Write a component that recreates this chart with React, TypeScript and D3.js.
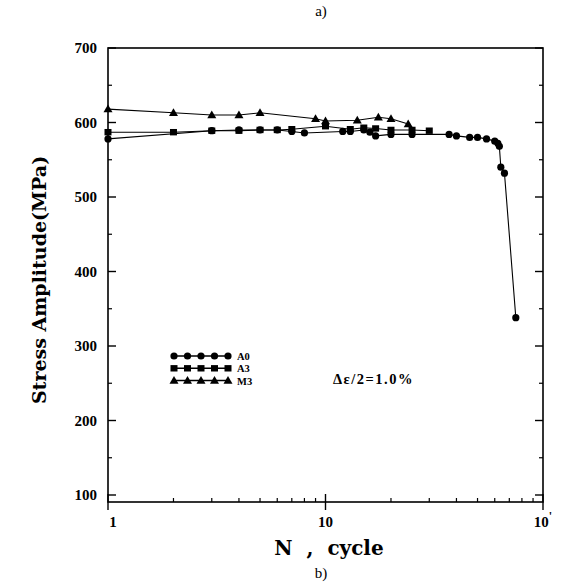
import React from "react";
import * as d3 from "d3";

const yTicks = [100, 200, 300, 400, 500, 600, 700];
const xTickLabels = ["1", "10", "10"];
const xTickValues = [1, 10, 100];

const a0N = [1, 3, 4, 5, 6, 7, 8, 12, 13, 15, 16, 17, 20, 25, 37, 40, 46, 50, 55, 60, 62, 63, 64, 66.5, 75];
const a0S = [578, 589, 590, 590, 590, 588, 586, 588, 588, 590, 587, 582, 584, 584, 584, 582, 580, 580, 578, 575, 572, 568, 540, 532, 338];

const a3N = [1, 2, 3, 4, 5, 6, 7, 10, 13, 15, 17, 20, 25, 30];
const a3S = [587, 587, 589, 589, 590, 590, 591, 595, 591, 593, 592, 590, 590, 589];

const m3N = [1, 2, 3, 4, 5, 9, 10, 14, 17.5, 20, 24];
const m3S = [618, 613, 610, 610, 613, 605, 602, 603, 607, 605, 598];

const legendNames = ["A0", "A3", "M3"];

const W = 570, H = 582;
const x = d3.scaleLog().domain([1, 100]).range([108, 543]);
const y = d3.scaleLinear().domain([100, 700]).range([495, 48]);
const plotBottom = 502;

function Marker({ kind, cx, cy }: { kind: string; cx: number; cy: number }) {
  if (kind === "circle") return <circle cx={cx} cy={cy} r={3.6} fill="#000" />;
  if (kind === "square") return <rect x={cx - 3.5} y={cy - 3.2} width={7} height={6.4} fill="#000" />;
  return <path d={`M${cx},${cy - 4.5} L${cx + 4.5},${cy + 3.2} L${cx - 4.5},${cy + 3.2} Z`} fill="#000" />;
}

function Series({ ns, ss, kind }: { ns: number[]; ss: number[]; kind: string }) {
  const pts: [number, number][] = ns.map((n, i) => [x(n), y(ss[i])]);
  const line = d3.line()(pts) || "";
  return (
    <g>
      <path d={line} fill="none" stroke="#000" strokeWidth={1.1} />
      {pts.map((p, i) => <Marker key={i} kind={kind} cx={p[0]} cy={p[1]} />)}
    </g>
  );
}

export default function App() {
  const minor: number[] = [];
  [1, 10].forEach((d) => { for (let k = 2; k <= 9; k++) minor.push(d * k); });
  const yMinor = d3.range(150, 700, 100);
  const kinds = ["circle", "square", "triangle"];
  const font = "'Liberation Serif', 'DejaVu Serif', serif";
  const font2 = "'DejaVu Serif', 'Liberation Serif', serif";
  return (
    <svg width={W} height={H} style={{ position: "absolute", left: 0, top: 0, background: "#fff" }}>
      <rect width={W} height={H} fill="#fff" />
      <text x={321} y={16} textAnchor="middle" fontFamily={font} fontSize={15}>a)</text>
      <text x={321} y={578} textAnchor="middle" fontFamily={font} fontSize={15}>b)</text>
      {/* frame */}
      <rect x={x(1)} y={48} width={x(100) - x(1)} height={plotBottom - 48} fill="none" stroke="#000" strokeWidth={1.6} />
      {/* y ticks */}
      {yTicks.map((t) => (
        <g key={t}>
          <line x1={x(1)} x2={x(1) + 8} y1={y(t)} y2={y(t)} stroke="#000" strokeWidth={1.4} />
          <line x1={x(100)} x2={x(100) - 8} y1={y(t)} y2={y(t)} stroke="#000" strokeWidth={1.4} />
          <text x={97} y={y(t) + 5} textAnchor="end" fontFamily={font} fontWeight="bold" fontSize={15}>{t}</text>
        </g>
      ))}
      {yMinor.map((t) => (
        <g key={t}>
          <line x1={x(1)} x2={x(1) + 4} y1={y(t)} y2={y(t)} stroke="#000" strokeWidth={1.2} />
          <line x1={x(100)} x2={x(100) - 4} y1={y(t)} y2={y(t)} stroke="#000" strokeWidth={1.2} />
        </g>
      ))}
      {/* x ticks */}
      {xTickValues.map((t, i) => (
        <g key={t}>
          <line x1={x(t)} x2={x(t)} y1={plotBottom - 8} y2={plotBottom + 8} stroke="#000" strokeWidth={1.4} />
          <text x={x(t) + (i === 0 ? 5 : 0)} y={527} textAnchor="middle" fontFamily={font} fontWeight="bold" fontSize={15}>
            {xTickLabels[i]}
            {i === 2 ? <tspan dy={-7} fontSize={12}>'</tspan> : null}
          </text>
        </g>
      ))}
      {minor.map((t) => (
        <line key={t} x1={x(t)} x2={x(t)} y1={plotBottom} y2={plotBottom - 4} stroke="#000" strokeWidth={1.2} />
      ))}
      {/* axis titles */}
      <text x={329} y={555} textAnchor="middle" fontFamily={font2} fontWeight="bold" fontSize={20} xmlSpace="preserve">N  ,  cycle</text>
      <text transform={`translate(46,280) rotate(-90)`} textAnchor="middle" fontFamily={font2} fontWeight="bold" fontSize={19}>Stress Amplitude(MPa)</text>
      {/* series */}
      <Series ns={a0N} ss={a0S} kind="circle" />
      <Series ns={a3N} ss={a3S} kind="square" />
      <Series ns={m3N} ss={m3S} kind="triangle" />
      {/* legend */}
      {legendNames.map((nm, i) => {
        const ly = 356 + i * 12.3;
        return (
          <g key={nm}>
            <line x1={173} x2={229} y1={ly} y2={ly} stroke="#000" strokeWidth={1.5} />
            {d3.range(5).map((k) => <Marker key={k} kind={kinds[i]} cx={174 + k * 13.5} cy={ly} />)}
            <text x={237} y={ly + 4} fontFamily={font} fontWeight="bold" fontSize={10.5}>{nm}</text>
          </g>
        );
      })}
      <text x={333} y={384} fontFamily={font} fontSize={14.5} fontWeight="bold" letterSpacing={1.5}>Δε/2=1.0%</text>
    </svg>
  );
}
